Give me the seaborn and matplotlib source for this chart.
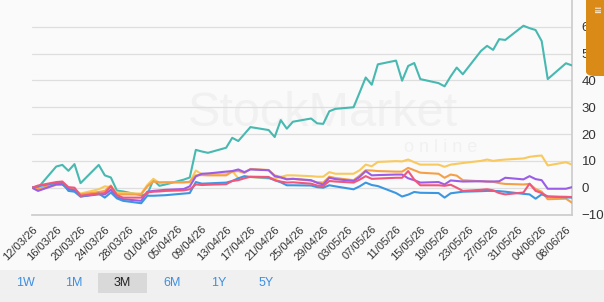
import numpy as np
import pandas as pd
import seaborn as sns
import matplotlib.pyplot as plt
import matplotlib.dates as mdates
from matplotlib.patches import Rectangle, FancyBboxPatch

# 交易日（工作日），数值是从图上读出来的累计涨跌幅 %
dates = pd.bdate_range("2026-03-12", "2026-06-09")

teal = [0, 0, 7.9, 8.5, 6.3, 8.8, 1.7, 8.5, 4.6, 3.8, -1.1, -1.4, -2.8, -2.5, 2.9, 0.7,
        1.2, 3.0, 3.8, 14.1, 13.5, 13.0, 14.9, 18.6, 17.4, 20.0, 22.6, 21.5, 18.9, 25.2,
        22.0, 24.6, 25.8, 24.0, 23.8, 28.5, 29.4, 30.0, 35.5, 41.1, 38.4, 46.0, 47.4, 39.9,
        45.4, 46.5, 40.5, 39.0, 37.8, 41.5, 44.8, 42.3, 51.0, 52.9, 51.4, 55.4, 55.1, 60.4,
        59.5, 58.8, 54.7, 40.5, 46.4, 45.6]
yellow = [0, -0.8, 1.0, 1.2, -0.8, -0.8, -2.2, -0.6, 0.5, 0.2, -1.8, -2.0, -2.2, 1.0, 3.3,
          1.8, 2.0, 2.0, 2.0, 6.4, 5.0, 5.2, 5.2, 6.2, 3.5, 3.8, 4.0, 3.4, 3.5, 4.0, 4.6, 4.6,
          4.3, 4.1, 4.1, 5.8, 5.2, 5.2, 6.5, 8.6, 8.0, 9.6, 9.9, 9.8, 10.5, 9.5, 8.6, 8.6, 7.8,
          8.6, 8.9, 9.2, 10.0, 10.5, 10.0, 10.3, 10.5, 10.9, 11.5, 11.8, 12.0, 8.3, 9.5, 8.6]
orange = [0, -0.5, 1.5, 1.6, -0.5, -0.5, -2.5, -1.6, -1.2, 0.8, -2.5, -2.5, -2.5, 0.5, 2.3,
          2.0, 2.0, 2.0, 2.2, 4.6, 4.7, 4.6, 4.6, 6.0, 6.2, 5.5, 7.0, 6.6, 4.6, 4.0, 3.3, 3.3,
          2.6, 2.0, 1.9, 4.1, 3.6, 2.8, 4.5, 6.5, 6.4, 6.2, 6.0, 6.0, 7.4, 6.5, 5.6, 5.2, 3.7,
          4.9, 4.5, 2.8, 2.4, 2.3, 2.2, 1.7, 1.4, 1.2, 1.4, -0.5, -1.5, -4.3, -4.1, -5.6]
purple = [0, -1.2, 1.2, 1.2, -0.5, -1.0, -3.3, -2.5, -2.5, -0.8, -3.5, -4.3, -4.9, -1.5,
          -1.2, -1.0, -0.8, -0.5, 0.5, 4.2, 5.2, 5.3, 6.0, 6.2, 6.8, 5.8, 6.8, 6.5, 4.3, 3.8,
          3.1, 3.3, 2.8, 1.8, 1.2, 3.7, 3.2, 2.5, 4.0, 6.2, 4.6, 4.7, 4.9, 4.9, 3.5, 2.8, 1.9,
          2.1, 1.2, 2.7, 2.5, 2.3, 2.4, 2.3, 2.3, 2.4, 3.7, 3.1, 4.3, 3.2, 2.8, -0.4, -0.4, 0.2]
red = [0, 0.8, 2.1, 2.3, 0.2, 0, -3.0, -2.2, -2.0, 0.5, -2.8, -3.7, -3.7, -1.8, -1.5, -1.4,
       -1.2, -1.0, -0.6, 1.2, 1.0, 1.1, 1.3, 2.5, 2.8, 3.5, 4.1, 4.0, 2.8, 2.3, 1.9, 2.0, 1.5,
       0.8, 0.6, 2.5, 2.3, 1.9, 3.0, 4.3, 3.3, 3.4, 3.7, 3.7, 6.2, 3.0, 0.9, 0.9, 0.7, 1.1,
       0.0, -1.2, -0.8, -0.6, -1.0, -2.0, -2.5, -1.8, 1.5, -1.2, -2.0, -3.3, -3.4, -3.5]
blue = [0, 0.5, 1.8, 1.8, -1.2, -1.5, -3.3, -2.2, -3.7, -1.8, -4.0, -4.9, -5.8, -3.0, -3.0,
        -2.9, -2.8, -2.2, -2.0, 2.1, 1.5, 1.6, 1.9, 2.5, 3.5, 4.3, 4.0, 3.7, 2.8, 2.0, 0.9,
        0.9, 0.8, 0.2, 0, 0.9, 0.5, -0.6, 0.5, 1.9, 1.0, 0.6, -2.0, -3.3, -2.6, -1.6, -1.9,
        -2.0, -3.7, -2.1, -1.8, -1.5, -1.3, -1.2, -1.2, -1.3, -1.5, -2.3, -2.5, -4.1, -2.5,
        -3.3, -3.6, -3.7]

series = {"teal": teal, "yellow": yellow, "orange": orange,
          "purple": purple, "blue": blue, "red": red}
colors = {"teal": "#47b9b1", "yellow": "#f8c95e", "orange": "#f5a047",
          "purple": "#9b5de8", "blue": "#3c97e2", "red": "#f0577c"}

y_ticks = [-10, 0, 10, 20, 30, 40, 50, 60]
range_buttons = ["1W", "1M", "3M", "6M", "1Y", "5Y"]
active_button = "3M"

# 拼成长表给 seaborn 用
df = pd.concat(
    [pd.DataFrame({"date": dates, "value": v, "name": k}) for k, v in series.items()],
    ignore_index=True,
)

sns.set_theme(style="white")
plt.rcParams["font.family"] = ["Liberation Sans", "DejaVu Sans"]

bg = "#fafafa"
fig = plt.figure(figsize=(6.04, 3.02), dpi=100, facecolor=bg)
ax = fig.add_axes([32 / 604, 87.5 / 302, 540 / 604, 214.5 / 302])
ax.set_facecolor(bg)

# 水印，很淡，放在线的下面
ax.text(0.535, 0.625, "StockMarket", fontsize=35, color="#f1f1f1",
        ha="center", va="center", zorder=0.5, transform=fig.transFigure)
ax.text(0.79, 0.51, "o n l i n e", fontsize=13, color="#f1f1f1",
        ha="right", va="center", zorder=0.5, transform=fig.transFigure)

sns.lineplot(data=df, x="date", y="value", hue="name", palette=colors,
             linewidth=1.5, legend=False, ax=ax, zorder=3)

ax.set_xlim(dates[0], dates[-1])
ax.set_ylim(-10, 70)
ax.set_xlabel("")
ax.set_ylabel("")

ax.set_yticks(y_ticks)
ax.yaxis.tick_right()
ax.tick_params(axis="y", length=0, pad=7, labelsize=9.5, labelcolor="#333333")
ax.grid(axis="y", color="#dedede", linewidth=0.9)
ax.grid(axis="x", visible=False)

tick_dates = pd.date_range("2026-03-12", "2026-06-08", freq="4D")
ax.set_xticks(tick_dates)
ax.xaxis.set_major_formatter(mdates.DateFormatter("%d/%m/%y"))
ax.tick_params(axis="x", length=5, color="#cccccc", labelsize=8, labelcolor="#333333", pad=2)
for lab in ax.get_xticklabels():
    lab.set_rotation(45)
    lab.set_ha("right")
    lab.set_rotation_mode("anchor")

for side in ["top", "left"]:
    ax.spines[side].set_visible(False)
ax.spines["bottom"].set_color("#cccccc")
ax.spines["right"].set_color("#cccccc")

# 底部的时间范围按钮条
fig.patches.append(Rectangle((0, 0), 1, 32 / 302, transform=fig.transFigure,
                             facecolor="#f0f0f0", edgecolor="none", zorder=1))
fig.patches.append(Rectangle((98 / 604, 9 / 302), 49 / 604, 20 / 302, transform=fig.transFigure,
                             facecolor="#d9d9d9", edgecolor="none", zorder=2))
btn_x = [25, 74, 122, 172, 219, 266]
for name, bx in zip(range_buttons, btn_x):
    fig.text(bx / 604, 19 / 302, name, fontsize=9,
             color="#222222" if name == active_button else "#3d8fe0",
             ha="center", va="center", zorder=3)

# 右上角那个橙色的标签，只露出一截
tab = FancyBboxPatch((586 / 604, (302 - 76) / 302), 0.2, 0.3,
                     boxstyle="round,pad=0,rounding_size=0.015",
                     transform=fig.transFigure, facecolor="#da8a17",
                     edgecolor="none", zorder=5)
fig.patches.append(tab)
fig.text(598 / 604, 0.985, "ııı", fontsize=7, color="white", rotation=90,
         ha="center", va="top", zorder=6)

fig.savefig("out.png", dpi=100, facecolor=bg)
